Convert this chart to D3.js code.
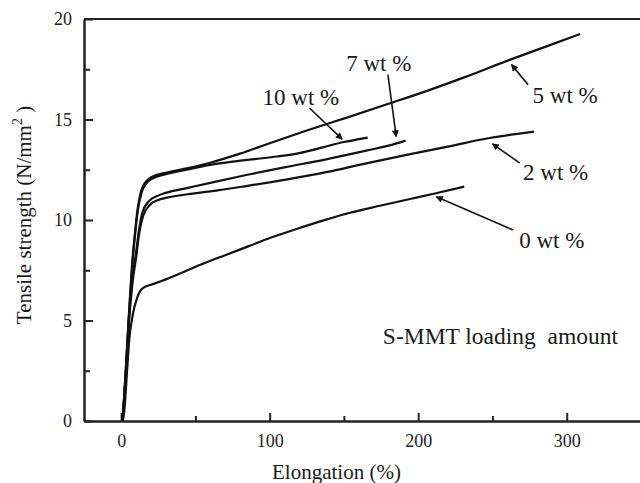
<!DOCTYPE html>
<html>
<head>
<meta charset="utf-8">
<script src="https://cdn.jsdelivr.net/npm/d3@7/dist/d3.min.js"></script>
<style>
  body { margin: 0; background: #fff; }
  svg { display: block; font-family: "Liberation Serif", "Times New Roman", serif; }
</style>
</head>
<body>
<script>
// elongation (%) , tensile strength (N/mm2)
var wt0 = [[1,0],[2,0.4],[4,2.5],[5.4,4.0],[7.6,5.2],[11,6.17],[14.4,6.6],[20,6.78],[25.6,6.92],[40,7.35],[55,7.82],[70,8.25],[86,8.7],[100,9.1],[120,9.6],[138,10.02],[154,10.36],[175,10.72],[193,11.02],[212,11.33],[231,11.66]];
var wt2 = [[1,0],[3,2.1],[5,4.7],[7.7,6.9],[10.2,8.2],[12.3,9.4],[14.8,10.2],[19.3,10.75],[25,11.0],[30,11.1],[45,11.28],[60,11.42],[85,11.7],[110,12.0],[138,12.38],[165,12.82],[193,13.25],[220,13.65],[248,14.08],[268,14.3],[278,14.4]];
var wt5 = [[1,0],[3,2.4],[5,5],[7.6,8],[9.5,9.5],[11,10.5],[13.3,11.41],[16.7,11.91],[21,12.16],[30,12.35],[45,12.58],[60,12.85],[80,13.3],[100,13.82],[125,14.45],[153,15.12],[180,15.78],[205,16.4],[230,17.07],[262,17.98],[285,18.6],[309,19.25]];
var wt7 = [[1,0],[3,2.2],[5,4.8],[7.5,7],[9.9,8.3],[12,9.5],[14.4,10.4],[18.9,10.95],[24.5,11.2],[30,11.35],[45,11.6],[60,11.85],[85,12.25],[110,12.62],[138,13.02],[165,13.45],[180,13.7],[191.5,13.95]];
var wt10 = [[1,0],[3,2.3],[5,4.9],[7.8,8],[9.7,9.5],[11.3,10.5],[13.7,11.35],[17,11.82],[21,12.06],[30,12.28],[45,12.52],[60,12.74],[75,12.9],[90,13.03],[105,13.16],[120,13.33],[135,13.6],[150,13.88],[160,14.02],[166,14.1]];

var series = [wt0, wt2, wt5, wt7, wt10];
var labels = ["0 wt %", "2 wt %", "5 wt %", "7 wt %", "10 wt %"];
// label anchor, arrow tail and arrow tip in data units
var labelPos = [[268,8.59],[270.6,12.0],[277,15.82],[151.5,17.4],[95.2,15.74]];
var arrowFrom = [[264,9.5],[268.4,12.83],[274,16.73],[179.6,17.23],[126.8,15.57]];
var arrowTo = [[212.2,11.16],[250,13.79],[262.8,17.73],[185.2,14.15],[148.8,14.02]];

var xTicks = [0, 100, 200, 300];
var xMinor = [50, 150, 250];
var yTicks = [0, 5, 10, 15, 20];
var yMinor = [2.5, 7.5, 12.5, 17.5];

var m = {t: 19, r: -1, b: 62, l: 84},
  width = 640 - m.l - m.r,
  height = 483 - m.t - m.b;

var x = d3.scaleLinear().domain([-25, 350]).range([0, width]);
var y = d3.scaleLinear().domain([0, 20]).range([height, 0]);

var svg = d3.select("body").append("svg")
  .attr("width", 640)
  .attr("height", 483);

svg.append("defs").append("marker")
  .attr("id", "arr")
  .attr("viewBox", "0 0 10 10")
  .attr("refX", 9)
  .attr("refY", 5)
  .attr("markerWidth", 10)
  .attr("markerHeight", 7)
  .attr("markerUnits", "userSpaceOnUse")
  .attr("orient", "auto")
  .append("path")
  .attr("d", "M0,0L10,5L0,10Z")
  .attr("fill", "#111");

var g = svg.append("g")
  .attr("transform", "translate(" + m.l + "," + m.t + ")");

// frame top
g.append("line")
  .attr("x1", 0).attr("x2", width)
  .attr("y1", 0).attr("y2", 0)
  .attr("stroke", "#222").attr("stroke-width", 2);

var xAxis = d3.axisBottom(x).tickValues(xTicks).tickSize(-8).tickSizeOuter(0).tickPadding(13);
var yAxis = d3.axisLeft(y).tickValues(yTicks).tickSize(-9).tickSizeOuter(0).tickPadding(12);

var gx = g.append("g")
  .attr("transform", "translate(0," + height + ")")
  .call(xAxis);
gx.append("g")
  .call(d3.axisBottom(x).tickValues(xMinor).tickSize(-5).tickSizeOuter(0).tickFormat(""));

var gy = g.append("g").call(yAxis);
gy.append("g")
  .call(d3.axisLeft(y).tickValues(yMinor).tickSize(-6).tickSizeOuter(0).tickFormat(""));

g.selectAll(".domain").attr("stroke", "#222").attr("stroke-width", 2);
g.selectAll(".tick line").attr("stroke", "#222").attr("stroke-width", 2);
g.selectAll(".tick text")
  .attr("fill", "#222")
  .style("font-size", "18px")
  .style("font-family", "'Liberation Serif', 'Times New Roman', serif");

var line = d3.line()
  .x(function(d) { return x(d[0]); })
  .y(function(d) { return y(d[1]); })
  .curve(d3.curveMonotoneX);

g.selectAll(".curve")
  .data(series)
  .enter().append("path")
  .attr("class", "curve")
  .attr("d", line)
  .attr("fill", "none")
  .attr("stroke", "#111")
  .attr("stroke-width", 2.2)
  .attr("stroke-linejoin", "round");

g.selectAll(".arrow")
  .data(labels)
  .enter().append("line")
  .attr("class", "arrow")
  .attr("x1", function(d, i) { return x(arrowFrom[i][0]); })
  .attr("y1", function(d, i) { return y(arrowFrom[i][1]); })
  .attr("x2", function(d, i) { return x(arrowTo[i][0]); })
  .attr("y2", function(d, i) { return y(arrowTo[i][1]); })
  .attr("stroke", "#111")
  .attr("stroke-width", 1.6)
  .attr("marker-end", "url(#arr)");

g.selectAll(".lab")
  .data(labels)
  .enter().append("text")
  .attr("class", "lab")
  .attr("x", function(d, i) { return x(labelPos[i][0]); })
  .attr("y", function(d, i) { return y(labelPos[i][1]); })
  .style("font-size", "23px")
  .attr("fill", "#1a1a1a")
  .text(function(d) { return d; });

g.append("text")
  .attr("x", x(176.2))
  .attr("y", y(3.82))
  .style("font-size", "23.5px")
  .attr("fill", "#1a1a1a")
  .attr("xml:space", "preserve")
  .text("S-MMT loading  amount");

g.append("text")
  .attr("x", x(145))
  .attr("y", height + 58)
  .attr("text-anchor", "middle")
  .style("font-size", "21px")
  .attr("fill", "#1a1a1a")
  .text("Elongation (%)");

var yt = svg.append("text")
  .attr("transform", "translate(31," + 215 + ") rotate(-90)")
  .attr("text-anchor", "middle")
  .style("font-size", "21px")
  .attr("fill", "#1a1a1a");
yt.append("tspan").text("Tensile strength (N/mm");
yt.append("tspan").attr("dy", -9).style("font-size", "14px").text("2");
yt.append("tspan").attr("dy", 9).text(" )");
</script>
</body>
</html>
